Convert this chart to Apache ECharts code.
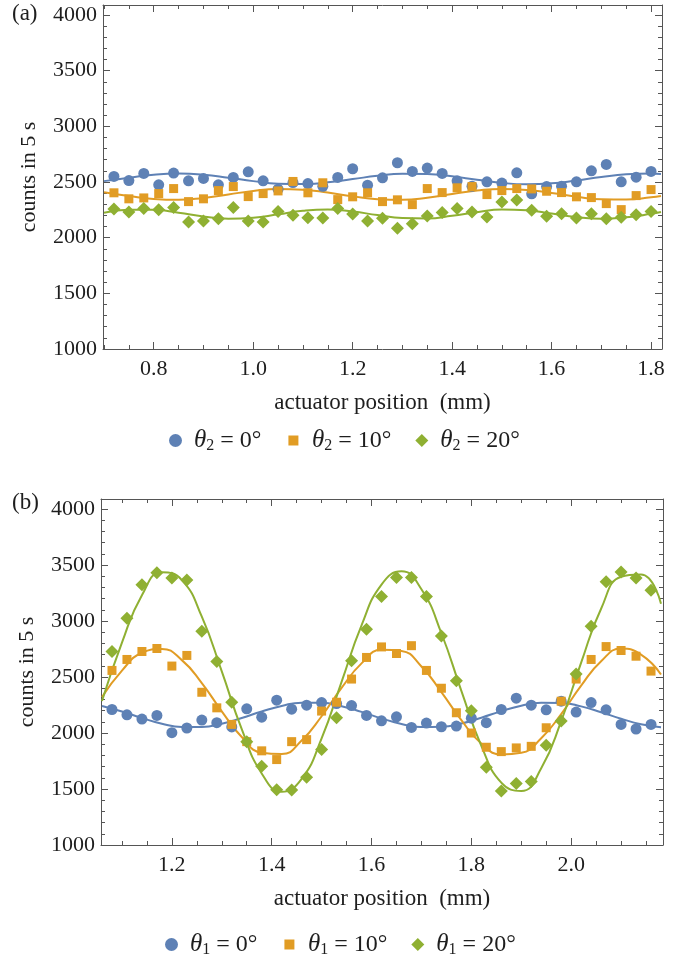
<!DOCTYPE html>
<html>
<head>
<meta charset="utf-8">
<script src="https://cdn.jsdelivr.net/npm/echarts@6/dist/echarts.min.js"></script>
<style>
html, body { margin: 0; padding: 0; background: #fff; }
#chart { width: 690px; height: 956px; }
</style>
</head>
<body>
<div id="chart"></div>
<script>
// panel (a): actuator positions and counts
const xA = [0.72, 0.75, 0.78, 0.81, 0.84, 0.87, 0.90, 0.93, 0.96, 0.99, 1.02, 1.05, 1.08, 1.11, 1.14, 1.17, 1.20, 1.23, 1.26,
    1.29, 1.32, 1.35, 1.38, 1.41, 1.44, 1.47, 1.50, 1.53, 1.56, 1.59, 1.62, 1.65, 1.68, 1.71, 1.74, 1.77, 1.80];
const blueA = [2550, 2513, 2577, 2475, 2580, 2511, 2532, 2475, 2541, 2592, 2511, 2435, 2495, 2486, 2462, 2541, 2619, 2471, 2538,
    2673, 2595, 2625, 2577, 2511, 2462, 2502, 2490, 2583, 2394, 2459, 2462, 2502, 2601, 2658, 2502, 2543, 2595];
const orangeA = [2403, 2349, 2357, 2396, 2441, 2324, 2349, 2423, 2459, 2369, 2396, 2420, 2505, 2403, 2493, 2342, 2367, 2403, 2324,
    2340, 2297, 2441, 2405, 2448, 2459, 2387, 2423, 2441, 2438, 2417, 2405, 2367, 2360, 2306, 2252, 2378, 2432];
const greenA = [2258, 2231, 2261, 2250, 2270, 2141, 2150, 2171, 2270, 2150, 2141, 2234, 2201, 2180, 2177, 2261, 2213, 2150, 2174,
    2084, 2126, 2195, 2225, 2261, 2231, 2186, 2321, 2339, 2246, 2192, 2216, 2177, 2216, 2171, 2183, 2207, 2234];

// panel (a): fitted curves
const fitXA = [0.70, 0.75, 0.80, 0.85, 0.90, 0.95, 1.00, 1.05, 1.10, 1.15, 1.20, 1.25, 1.30, 1.35, 1.40, 1.45, 1.50, 1.55,
    1.60, 1.65, 1.70, 1.75, 1.80, 1.82];
const fitBlueA = [2508, 2539, 2566, 2576, 2566, 2539, 2508, 2485, 2481, 2497, 2526, 2556, 2574, 2572, 2551, 2520, 2492, 2480,
    2488, 2514, 2545, 2569, 2576, 2572];
const fitOrangeA = [2408, 2375, 2348, 2340, 2357, 2388, 2420, 2437, 2431, 2405, 2371, 2346, 2341, 2359, 2392, 2423, 2438, 2429,
    2402, 2368, 2345, 2343, 2363, 2375];
const fitGreenA = [2224, 2250, 2250, 2224, 2190, 2171, 2179, 2210, 2242, 2254, 2235, 2203, 2176, 2173, 2197, 2229, 2253, 2247,
    2217, 2185, 2170, 2183, 2214, 2231];

// panel (b)
const xB = [1.08, 1.11, 1.14, 1.17, 1.20, 1.23, 1.26, 1.29, 1.32, 1.35, 1.38, 1.41, 1.44, 1.47, 1.50, 1.53, 1.56, 1.59, 1.62,
    1.65, 1.68, 1.71, 1.74, 1.77, 1.80, 1.83, 1.86, 1.89, 1.92, 1.95, 1.98, 2.01, 2.04, 2.07, 2.10, 2.13, 2.16];
const blueB = [2210, 2163, 2125, 2157, 2003, 2045, 2116, 2092, 2054, 2216, 2142, 2293, 2213, 2249, 2272, 2263, 2245, 2157, 2109,
    2145, 2050, 2089, 2056, 2062, 2133, 2092, 2210, 2311, 2249, 2207, 2284, 2187, 2272, 2207, 2077, 2036, 2077];
const orangeB = [2559, 2657, 2728, 2755, 2598, 2693, 2364, 2225, 2077, 1923, 1841, 1763, 1923, 1941, 2196, 2275, 2482, 2675, 2769,
    2710, 2780, 2559, 2400, 2181, 2000, 1873, 1834, 1867, 1881, 2047, 2284, 2482, 2657, 2772, 2737, 2686, 2553];
const greenB = [2728, 3026, 3325, 3432, 3385, 3367, 2908, 2639, 2275, 1923, 1704, 1494, 1491, 1604, 1852, 2136, 2645, 2926, 3219,
    3390, 3390, 3219, 2867, 2467, 2198, 1695, 1482, 1550, 1568, 1890, 2107, 2527, 2953, 3352, 3438, 3385, 3275];

const fitXB = [1.06, 1.10, 1.14, 1.18, 1.22, 1.26, 1.30, 1.34, 1.38, 1.42, 1.46, 1.50, 1.54, 1.58, 1.62, 1.66, 1.70, 1.74,
    1.78, 1.82, 1.86, 1.90, 1.94, 1.98, 2.02, 2.06, 2.10, 2.14, 2.18];
const fitBlueB = [2242, 2192, 2134, 2083, 2054, 2054, 2083, 2134, 2192, 2242, 2271, 2270, 2240, 2189, 2131, 2081, 2053, 2055,
    2085, 2137, 2195, 2244, 2271, 2269, 2238, 2186, 2128, 2079, 2052];
const fitOrangeB = [2321, 2558, 2717, 2751, 2651, 2446, 2194, 1964, 1824, 1812, 1933, 2150, 2403, 2622, 2743, 2733, 2594, 2366,
    2115, 1907, 1809, 1823, 1953, 2169, 2423, 2641, 2754, 2700, 2523];
const fitGreenB = [2286, 2807, 3231, 3436, 3366, 3039, 2550, 2034, 1639, 1476, 1591, 1953, 2457, 2962, 3326, 3444, 3284, 2891,
    2377, 1886, 1557, 1483, 1685, 2107, 2629, 3110, 3395, 3415, 3155];

const anglesA = ['0°', '10°', '20°'];
const anglesB = ['0°', '10°', '20°'];

const colors = ['#5e81b5', '#e19c24', '#8fb032'];
const serif = '"Liberation Serif", "DejaVu Serif", serif';
const frame = '#555';
const ink = '#1e1e1e';

let chart = echarts.init(document.getElementById('chart'));

function pairs(xs, ys) {
    return xs.map(function (x, i) { return [x, ys[i]]; });
}

function xAxis(grid, min, max, top) {
    return {
        type: 'value', gridIndex: grid, position: top ? 'top' : 'bottom',
        min: min, max: max, splitNumber: 5,
        axisLine: { show: true, onZero: false, lineStyle: { color: frame, width: 1 } },
        axisTick: { show: true, inside: true, length: 7, lineStyle: { color: frame } },
        minorTick: { show: true, splitNumber: 4, length: 4, lineStyle: { color: frame } },
        splitLine: { show: false },
        axisLabel: {
            show: !top, showMinLabel: false, showMaxLabel: false, margin: 9,
            formatter: function (v) { return v.toFixed(1); },
            fontFamily: serif, fontSize: 22, color: ink
        },
        name: top ? '' : 'actuator position  (mm)',
        nameLocation: 'middle', nameGap: 42,
        nameTextStyle: { fontFamily: serif, fontSize: 23, color: ink }
    };
}

function yAxis(grid, right) {
    return {
        type: 'value', gridIndex: grid, position: right ? 'right' : 'left',
        min: 1000, max: 4090, interval: 500,
        axisLine: { show: true, onZero: false, lineStyle: { color: frame, width: 1 } },
        axisTick: { show: true, inside: true, length: 7, lineStyle: { color: frame } },
        minorTick: { show: true, splitNumber: 5, length: 4, lineStyle: { color: frame } },
        splitLine: { show: false },
        axisLabel: {
            show: !right, showMaxLabel: false, margin: 6,
            formatter: function (v) { return String(v); },
            fontFamily: serif, fontSize: 22, color: ink
        },
        name: right ? '' : 'counts in 5 s',
        nameLocation: 'middle', nameGap: 63, nameRotate: 90,
        nameTextStyle: { fontFamily: serif, fontSize: 22, color: ink }
    };
}

function legendText(sub, angles) {
    return function (name) {
        let k = Number(name.slice(1));
        return '{t|θ}{s|' + sub + '}{n| = ' + angles[k] + '}';
    };
}

function legend(left, top, sub, angles, prefix) {
    return {
        left: left, top: top, itemGap: 24, itemWidth: 13, itemHeight: 13,
        selectedMode: false,
        data: [
            { name: prefix + '0', icon: 'circle' },
            // white edge trims the square down to the smaller marker of the reference
            { name: prefix + '1', icon: 'rect', itemStyle: { borderColor: '#fff', borderWidth: 3 } },
            { name: prefix + '2', icon: 'diamond' }
        ],
        formatter: legendText(sub, angles),
        textStyle: {
            fontFamily: serif, fontSize: 24, color: ink, padding: [0, 0, 0, 7],
            rich: {
                t: { fontFamily: serif, fontStyle: 'italic', fontSize: 25, color: ink },
                s: { fontFamily: serif, fontSize: 16, color: ink, padding: [11, 0, 0, 0] },
                n: { fontFamily: serif, fontSize: 24, color: ink }
            }
        }
    };
}

const symbols = ['circle', 'rect', 'diamond'];
const symbolSizes = [11, 9, 13];

function scatter(name, xi, yi, xs, ys, k) {
    return {
        name: name, type: 'scatter', xAxisIndex: xi, yAxisIndex: yi,
        symbol: symbols[k], symbolSize: symbolSizes[k],
        itemStyle: { color: colors[k], opacity: 1 },
        data: pairs(xs, ys), z: 3
    };
}

function fit(xi, yi, xs, ys, k) {
    return {
        type: 'line', xAxisIndex: xi, yAxisIndex: yi, smooth: 0.5,
        showSymbol: false, symbol: 'none',
        lineStyle: { color: colors[k], width: 2 },
        data: pairs(xs, ys), z: 2
    };
}

let option = {
    backgroundColor: '#fff',
    animation: false,
    title: [
        { text: '(a)', left: 12, top: 2, padding: 0, textStyle: { fontFamily: serif, fontSize: 23, fontWeight: 'normal', color: ink } },
        { text: '(b)', left: 12, top: 491, padding: 0, textStyle: { fontFamily: serif, fontSize: 23, fontWeight: 'normal', color: ink } }
    ],
    grid: [
        { left: 103, top: 5, width: 559, height: 344 },
        { left: 101, top: 499, width: 562, height: 346 }
    ],
    xAxis: [
        xAxis(0, 0.698, 1.822, false),
        xAxis(0, 0.698, 1.822, true),
        xAxis(1, 1.058, 2.184, false),
        xAxis(1, 1.058, 2.184, true)
    ],
    yAxis: [
        yAxis(0, false),
        yAxis(0, true),
        yAxis(1, false),
        yAxis(1, true)
    ],
    legend: [
        legend(164, 423, '2', anglesA, 'a'),
        legend(160, 927, '1', anglesB, 'b')
    ],
    series: [
        fit(0, 0, fitXA, fitBlueA, 0),
        fit(0, 0, fitXA, fitOrangeA, 1),
        fit(0, 0, fitXA, fitGreenA, 2),
        scatter('a0', 0, 0, xA, blueA, 0),
        scatter('a1', 0, 0, xA, orangeA, 1),
        scatter('a2', 0, 0, xA, greenA, 2),
        fit(2, 2, fitXB, fitBlueB, 0),
        fit(2, 2, fitXB, fitOrangeB, 1),
        fit(2, 2, fitXB, fitGreenB, 2),
        scatter('b0', 2, 2, xB, blueB, 0),
        scatter('b1', 2, 2, xB, orangeB, 1),
        scatter('b2', 2, 2, xB, greenB, 2)
    ]
};

chart.setOption(option);
</script>
</body>
</html>
